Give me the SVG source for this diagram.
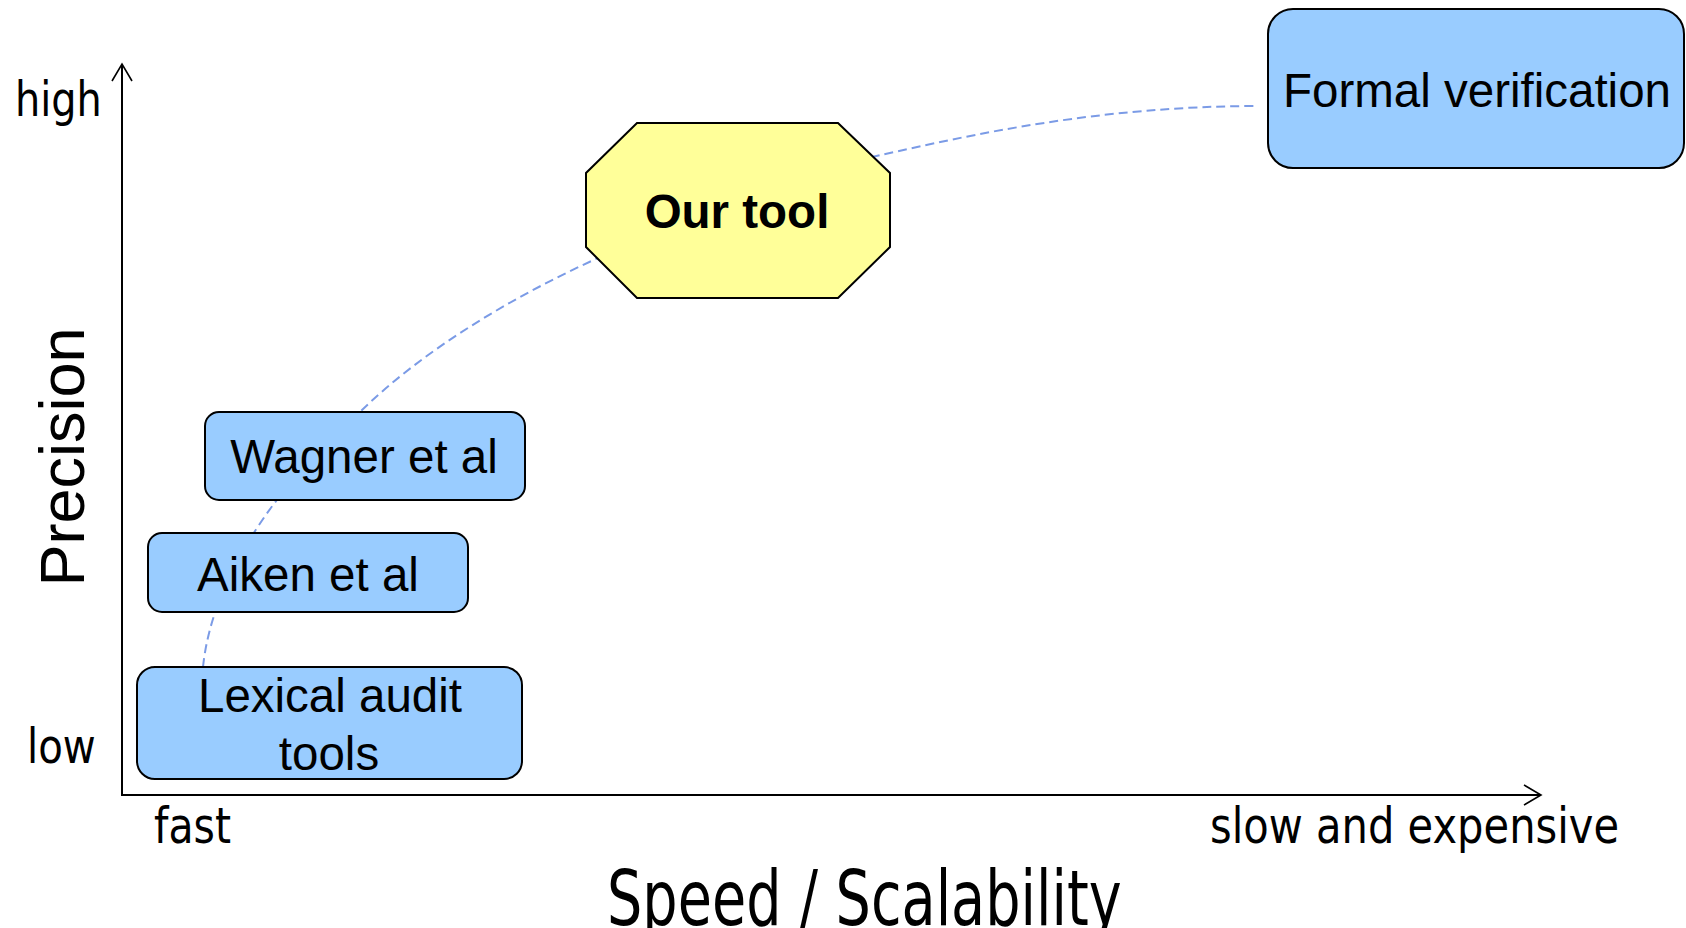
<svg xmlns="http://www.w3.org/2000/svg" width="1686" height="928" viewBox="0 0 1686 928">
  <style>
    .box { fill: #99ccff; stroke: #000; stroke-width: 2; }
    .oct { fill: #ffff99; stroke: #000; stroke-width: 2; }
    .lbl { font-family: "Liberation Sans", Arial, sans-serif; font-size: 47.5px; fill: #000; text-anchor: middle; }
    .bold { font-weight: bold; }
    .axt { font-family: "DejaVu Sans", Verdana, sans-serif; fill: #000; }
    .axis { stroke: #000; stroke-width: 2; fill: none; }
    .trend { stroke: #7b9be6; stroke-width: 2; fill: none; stroke-dasharray: 9 5; }
  </style>
  <defs>
    <marker id="open-arrow" viewBox="-19 -12 21 24" refX="0" refY="0" markerWidth="21" markerHeight="24" markerUnits="userSpaceOnUse" orient="auto">
      <path d="M-17,-10 L0,0 L-17,10" fill="none" stroke="#000" stroke-width="1.6"/>
    </marker>
  </defs>

  <rect width="1686" height="928" fill="#fff"/>

  <!-- axes and their captions (captions narrowed horizontally) -->
  <g id="axes">
    <line class="axis" x1="122" y1="795" x2="122" y2="64" marker-end="url(#open-arrow)"/>
    <line class="axis" x1="121" y1="795" x2="1541" y2="795" marker-end="url(#open-arrow)"/>
    <text class="axt" transform="translate(15,116) scale(0.83,1)" font-size="48">high</text>
    <text class="axt" transform="translate(27,763) scale(0.84,1)" font-size="48">low</text>
    <text class="axt" transform="translate(154,843) scale(0.82,1)" font-size="50">fast</text>
    <text class="axt" transform="translate(1210,843) scale(0.833,1)" font-size="50">slow and expensive</text>
    <text class="axt" transform="translate(607,925) scale(0.723,1)" font-size="77">Speed / Scalability</text>
    <text class="lbl" transform="translate(84,457) rotate(-90)" style="font-size:63px">Precision</text>
  </g>

  <!-- trend curve running through the tools -->
  <g id="connectors">
    <path class="trend" d="M203,667 Q210,600 257,528 C280,493 300,470 362,410 C424,350 510,298 598,258 C686,218 790,175 881,155 C970,135 1100,106 1258,106"/>
  </g>

  <g id="node-formal">
    <rect class="box" x="1268" y="9" width="416" height="159" rx="25" ry="25"/>
    <text class="lbl" x="1477" y="107">Formal verification</text>
  </g>

  <g id="node-ourtool">
    <polygon class="oct" points="637,123 838,123 890,173 890,247 838,298 637,298 586,247 586,173"/>
    <text class="lbl bold" x="737" y="228">Our tool</text>
  </g>

  <g id="node-wagner">
    <rect class="box" x="205" y="412" width="320" height="88" rx="14" ry="14"/>
    <text class="lbl" x="364" y="473">Wagner et al</text>
  </g>

  <g id="node-aiken">
    <rect class="box" x="148" y="533" width="320" height="79" rx="14" ry="14"/>
    <text class="lbl" x="308" y="591">Aiken et al</text>
  </g>

  <g id="node-lexical">
    <rect class="box" x="137" y="667" width="385" height="112" rx="18" ry="18"/>
    <text class="lbl" x="330" y="712">Lexical audit</text>
    <text class="lbl" x="329" y="770">tools</text>
  </g>
</svg>
